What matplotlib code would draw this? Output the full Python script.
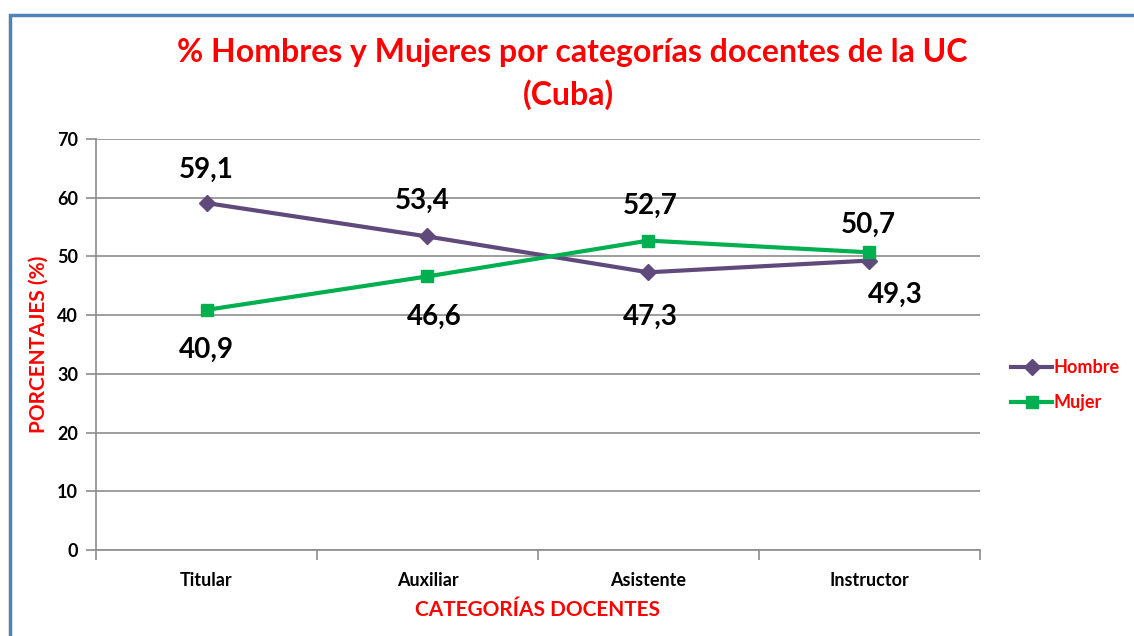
import matplotlib
matplotlib.use("Agg")
import numpy as np
from matplotlib import pyplot as plt
from matplotlib.patches import Rectangle

categorias = ["Titular", "Auxiliar", "Asistente", "Instructor"]
hombre = [59.1, 53.4, 47.3, 49.3]
mujer = [40.9, 46.6, 52.7, 50.7]
# etiquetas tal como aparecen en el grafico (coma decimal)
etiq_hombre = ["59,1", "53,4", "47,3", "49,3"]
etiq_mujer = ["40,9", "46,6", "52,7", "50,7"]
yticks = [0, 10, 20, 30, 40, 50, 60, 70]

plt.rcParams['font.family'] = ['Lato', 'DejaVu Sans']

rojo = "#ff0000"
morado = "#604a7b"
verde = "#00b050"
gris = "#8c8c8c"

fig = plt.figure(figsize=(11.34, 6.36), dpi=100)
ax = fig.add_axes([0.0847, 0.1352, 0.864 - 0.0847, 0.7814 - 0.1352])

x = np.arange(len(categorias))
ax.plot(x, hombre, color=morado, lw=3, marker="D", ms=8, label="Hombre", zorder=3)
ax.plot(x, mujer, color=verde, lw=3, marker="s", ms=9, label="Mujer", zorder=3)

# posiciones de las etiquetas de datos (desplazamiento en puntos)
off_h = [(0, 24), (-3.6, 26), (1.4, -32), (19, -25)]
off_m = [(0, -29), (5, -29), (1.4, 25), (-1, 19.5)]
for i in range(len(categorias)):
    ax.annotate(etiq_hombre[i], (x[i], hombre[i]), xytext=off_h[i], textcoords="offset points",
                ha="center", va="center", fontsize=20, fontweight="bold", color="black")
    ax.annotate(etiq_mujer[i], (x[i], mujer[i]), xytext=off_m[i], textcoords="offset points",
                ha="center", va="center", fontsize=20, fontweight="bold", color="black")

ax.set_xlim(-0.5, 3.5)
ax.set_ylim(0, 70)
ax.set_yticks(yticks)
ax.set_yticklabels([str(v) for v in yticks], fontsize=13, fontweight="bold")
ax.yaxis.grid(True, color=gris, lw=1.2)
ax.set_axisbelow(True)

ax.set_xticks(np.arange(-0.5, 4, 1))
ax.set_xticklabels([])
ax.set_xticks(x, minor=True)
ax.set_xticklabels(categorias, minor=True, fontsize=13, fontweight="bold")
ax.tick_params(axis="x", which="minor", length=0, pad=16)
ax.tick_params(axis="x", which="major", length=7, color=gris, width=1.2)
ax.tick_params(axis="y", length=7, color=gris, width=1.2, pad=6)

for s in ["top", "right"]:
    ax.spines[s].set_visible(False)
for s in ["left", "bottom"]:
    ax.spines[s].set_color(gris)
    ax.spines[s].set_linewidth(1.2)

ax.set_ylabel("PORCENTAJES (%)", color=rojo, fontsize=15, fontweight="bold", labelpad=6)
ax.set_xlabel("CATEGORÍAS DOCENTES", color=rojo, fontsize=15, fontweight="bold", labelpad=8)

fig.text(0.5044, 0.917, "% Hombres y Mujeres por categorías docentes de la UC",
         ha="center", va="center", color=rojo, fontsize=23, fontweight="bold")
fig.text(0.501, 0.852, "(Cuba)",
         ha="center", va="center", color=rojo, fontsize=23, fontweight="bold")

leg = ax.legend(loc="center left", bbox_to_anchor=(0.877, 0.3947), bbox_transform=fig.transFigure,
                frameon=False, handlelength=2.3, handletextpad=0.05, labelspacing=1.0,
                prop={"weight": "bold", "size": 13})
for t in leg.get_texts():
    t.set_color(rojo)

# marco azul del grafico
fig.patches.append(Rectangle((10 / 1134, -0.1), 1.2, 1 - 15 / 636 + 0.1, transform=fig.transFigure,
                             fill=False, edgecolor="#4f81bd", lw=2.5))

fig.savefig("out.png", dpi=100)
